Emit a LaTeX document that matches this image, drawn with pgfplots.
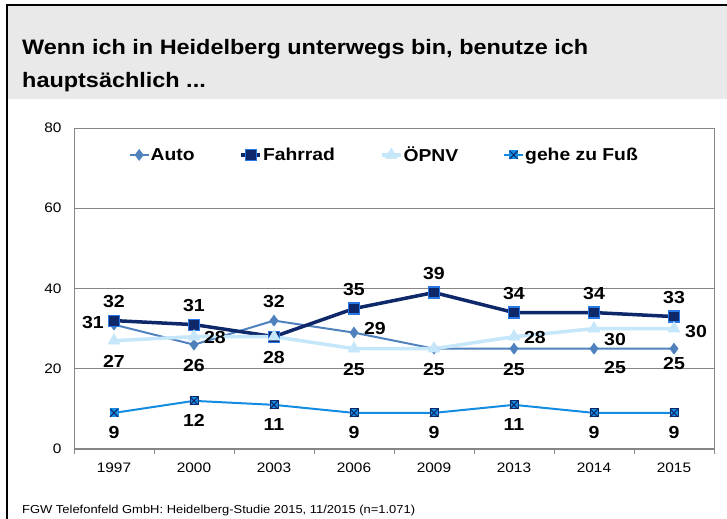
\documentclass[border=0pt]{standalone}
\usepackage{fontspec}
\setmainfont{Liberation Sans}[FakeStretch=1.12]
\usepackage{pgfplots}
\pgfplotsset{compat=1.18}

\definecolor{autoc}{RGB}{79,129,189}
\definecolor{radc}{RGB}{14,40,105}
\definecolor{radedge}{RGB}{40,120,230}
\definecolor{oepnvc}{RGB}{198,230,250}
\definecolor{fussc}{RGB}{20,140,225}
\definecolor{hdr}{RGB}{233,233,233}
\definecolor{framec}{RGB}{134,134,134}

\pgfdeclareplotmark{boxx}{%
  \pgfpathrectangle{\pgfpoint{-\pgfplotmarksize}{-\pgfplotmarksize}}{\pgfpoint{2\pgfplotmarksize}{2\pgfplotmarksize}}%
  \pgfusepathqfillstroke
  \pgfsetstrokecolor{radc}%
  \pgfpathmoveto{\pgfpoint{-\pgfplotmarksize}{-\pgfplotmarksize}}\pgfpathlineto{\pgfpoint{\pgfplotmarksize}{\pgfplotmarksize}}%
  \pgfpathmoveto{\pgfpoint{-\pgfplotmarksize}{\pgfplotmarksize}}\pgfpathlineto{\pgfpoint{\pgfplotmarksize}{-\pgfplotmarksize}}%
  \pgfusepathqstroke
}

\pgfplotsset{lbl/.style 2 args={draw=none, mark=none, forget plot, nodes near coords, point meta=y,
  every node near coord/.append style={anchor=center, inner sep=0pt, xshift=#1, yshift=#2,
    font=\bfseries\fontsize{17.5}{17.5}\selectfont, text=black}}}

\begin{document}
\begin{tikzpicture}
\path[use as bounding box] (0,0) rectangle (727bp,519bp);
\fill[hdr] (7bp,420bp) rectangle (727bp,514bp);
\draw[black, line width=1.5bp] (7bp,0) -- (7bp,514bp) -- (727bp,514bp);
\node[anchor=base west, inner sep=0, font=\bfseries\fontsize{21}{21}\selectfont] at (22bp,464bp) {Wenn ich in Heidelberg unterwegs bin, benutze ich};
\node[anchor=base west, inner sep=0, font=\bfseries\fontsize{21}{21}\selectfont] at (22bp,431bp) {hauptsächlich ...};
\node[anchor=base west, inner sep=0, font=\fontsize{11.6}{11.6}\selectfont] at (22bp,6bp) {FGW Telefonfeld GmbH: Heidelberg-Studie 2015, 11/2015 (n=1.071)};

\begin{axis}[
  at={(74bp,70bp)}, anchor=south west, scale only axis,
  width=640bp, height=321bp,
  xmin=-0.5, xmax=7.5, ymin=0, ymax=80,
  xtick={0,...,7}, xticklabels={1997,2000,2003,2006,2009,2013,2014,2015},
  ytick={0,20,40,60,80},
  minor xtick={-0.5,0.5,...,7.5},
  major tick length=0pt, minor tick length=5bp, tick align=outside,
  xtick pos=bottom, ytick pos=left,
  ymajorgrids, grid style={color=framec, line width=0.8bp},
  axis line style={framec, line width=1bp},
  tick style={framec, line width=0.8bp},
  ticklabel style={font=\fontsize{13.8}{13.8}\selectfont},
  xticklabel style={yshift=-10bp},
  yticklabel style={xshift=-9bp},
  /pgf/number format/assume math mode=true,
  clip=false,
  legend columns=4,
  legend style={at={(0.484,0.916)}, anchor=center, draw=none, fill=none,
    font=\bfseries\fontsize{17.3}{17.3}\selectfont,
    /tikz/every even column/.append style={column sep=44bp},
    nodes={inner sep=1bp}},
  legend image code/.code={\draw[mark repeat=2, mark phase=2] plot coordinates {(0bp,0bp)(9.5bp,0bp)(19bp,0bp)};},
]
% Auto
\addplot[autoc, line width=2bp, mark=diamond*, mark size=5.5bp, mark options={fill=autoc, draw=autoc, line width=0.5bp}]
  coordinates {(0,31)(1,26)(2,32)(3,29)(4,25)(5,25)(6,25)(7,25)};
\addlegendentry{Auto}
% Fahrrad
\addplot[radc, line width=3.5bp, mark=square*, mark size=5.5bp, mark options={fill=radc, draw=radedge, line width=1.2bp}]
  coordinates {(0,32)(1,31)(2,28)(3,35)(4,39)(5,34)(6,34)(7,33)};
\addlegendentry{Fahrrad}
% OePNV
\addplot[oepnvc, line width=3.5bp, mark=triangle*, mark size=7bp, mark options={fill=oepnvc, draw=oepnvc, line width=0.5bp}]
  coordinates {(0,27)(1,28)(2,28)(3,25)(4,25)(5,28)(6,30)(7,30)};
\addlegendentry{ÖPNV}
% zu Fuss
\addplot[fussc, line width=2bp, mark=boxx, mark size=4bp, mark options={fill=fussc, draw=fussc, line width=1bp}]
  coordinates {(0,9)(1,12)(2,11)(3,9)(4,9)(5,11)(6,9)(7,9)};
\addlegendentry{gehe zu Fuß}

% data labels
\addplot[lbl={0bp}{19bp}] coordinates {(0,32)(1,31)(3,35)(4,39)(5,34)(6,34)(7,33)(2,32)};
\addplot[lbl={0bp}{-21bp}] coordinates {(1,26)(4,25)(5,25)(2,28)(0,27)(3,25)};
\addplot[lbl={0bp}{-20bp}] coordinates {(0,9)(1,12)(2,11)(3,9)(4,9)(5,11)(6,9)(7,9)};
\addplot[lbl={21bp}{-1bp}] coordinates {(1,28)(5,28)};
\addplot[lbl={-21bp}{2bp}] coordinates {(0,31)};
\addplot[lbl={21bp}{4bp}] coordinates {(3,29)};
\addplot[lbl={21bp}{-11bp}] coordinates {(6,30)};
\addplot[lbl={21bp}{-19bp}] coordinates {(6,25)};
\addplot[lbl={22bp}{-3bp}] coordinates {(7,30)};
\addplot[lbl={0bp}{-15bp}] coordinates {(7,25)};
\end{axis}
\end{tikzpicture}
\end{document}
